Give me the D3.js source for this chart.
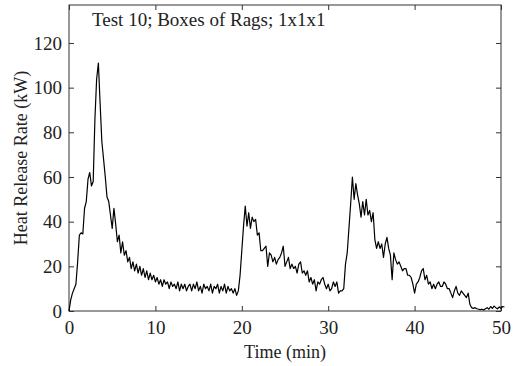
<!DOCTYPE html>
<html>
<head>
<meta charset="utf-8">
<script src="https://cdn.jsdelivr.net/npm/d3@7"></script>
<style>
  body { margin: 0; background: #fff; }
  text { font-family: "Liberation Serif", "Times New Roman", serif; fill: #222; }
</style>
</head>
<body>
<div id="chart"></div>
<script>
// Heat release rate, sampled every 0.2 min from 0 to 50 min
const sampleStep = 0.2;
const hrr = [
    0, 5, 8, 10, 12, 22, 34, 35, 34.5, 46,
    49, 59, 62, 56, 58, 86, 104, 111, 93, 76,
    68, 60, 51, 49, 43, 37, 46, 39, 31, 34,
    26, 31, 25, 27, 22, 24, 19, 22, 18, 21,
    17, 20, 16, 19, 15, 18, 14, 17, 14, 16,
    13, 15, 12, 14, 11, 14, 12, 13, 10, 13,
    11, 12, 10, 13, 9, 12, 10, 12, 9, 11,
    12, 9, 12, 10, 13, 9, 11, 8, 12, 10,
    11, 9, 12, 8, 11, 10, 12, 8, 11, 9,
    12, 8, 11, 9, 10, 8, 10, 7, 9, 16,
    27, 38, 47, 38, 44, 37, 42, 40, 41, 34,
    35, 27, 27, 28, 29, 20, 26, 25, 22, 24,
    21, 23, 24, 26, 29, 20, 22, 24, 19, 21,
    19, 20, 17, 21, 22, 17, 18, 16, 18, 13,
    15, 12, 14, 9, 13, 12, 14, 15, 12, 10,
    12, 9, 10, 13, 11, 13, 8, 9, 9, 10,
    21, 26, 37, 48, 60, 50, 57, 52, 48, 42,
    49, 43, 50, 43, 45, 40, 44, 32, 28, 31,
    28, 30, 24, 30, 33, 28, 25, 14, 26, 23,
    21, 22, 20, 18, 19, 19, 16, 16, 15, 12,
    8, 12, 13, 15, 18, 19, 14, 16, 12, 13,
    10, 12, 10, 12, 13, 11, 11, 13, 12, 10,
    10, 8, 6, 9, 11, 8, 7, 9, 8, 7,
    6, 8, 3, 1.5, 1.2, 1.5, 1, 0.8, 0.6, 0.8,
    0.5, 1, 1.5, 0.8, 2, 1.2, 2.2, 1.5, 1, 1.8,
    1.2, 2, 1.8
];

const xTicks = [0, 10, 20, 30, 40, 50];
const yTicks = [0, 20, 40, 60, 80, 100, 120];
const chartTitle = "Test 10; Boxes of Rags; 1x1x1";

const margin = { top: 5, right: 14, bottom: 55, left: 69 };
const width = 515 - margin.left - margin.right;
const height = 366 - margin.top - margin.bottom;
const serif = "'Liberation Serif', 'Times New Roman', serif";

const svg = d3.select("#chart")
    .append("svg")
    .attr("width", 515)
    .attr("height", 366);

const g = svg.append("g")
    .attr("transform", `translate(${margin.left},${margin.top})`);

const x = d3.scaleLinear().domain([0, 50]).range([0, width]);
const y = d3.scaleLinear().domain([0, 137]).range([height, 0]);

// Frame
g.append("rect")
    .attr("width", width)
    .attr("height", height)
    .attr("fill", "none")
    .attr("stroke", "#333")
    .attr("stroke-width", 1);

// Axes with inward ticks (mirrored on top and right)
const tickLen = 5;
const axes = [
    g.append("g")
        .attr("transform", `translate(0,${height})`)
        .call(d3.axisBottom(x).tickValues(xTicks).tickSize(-tickLen).tickPadding(10)),
    g.append("g")
        .call(d3.axisTop(x).tickValues(xTicks).tickSize(-tickLen).tickFormat("")),
    g.append("g")
        .call(d3.axisLeft(y).tickValues(yTicks).tickSize(-tickLen).tickPadding(7)),
    g.append("g")
        .attr("transform", `translate(${width},0)`)
        .call(d3.axisRight(y).tickValues(yTicks).tickSize(-tickLen).tickFormat(""))
];
axes.forEach(a => {
    a.attr("font-family", serif).attr("font-size", 19);
    a.select(".domain").remove();
    a.selectAll(".tick line").attr("stroke", "#333");
    a.selectAll(".tick text").attr("fill", "#222");
});

// Curve
const line = d3.line()
    .x((d, i) => x(i * sampleStep))
    .y(d => y(d));

g.append("path")
    .datum(hrr)
    .attr("fill", "none")
    .attr("stroke", "#000")
    .attr("stroke-width", 1.2)
    .attr("stroke-linejoin", "round")
    .attr("d", line);

// Title inside the plot
g.append("text")
    .attr("x", 23)
    .attr("y", 21)
    .style("font-size", "19px")
    .text(chartTitle);

// Axis labels
svg.append("text")
    .attr("x", margin.left + width / 2)
    .attr("y", 358)
    .attr("text-anchor", "middle")
    .style("font-size", "18px")
    .text("Time (min)");

svg.append("text")
    .attr("transform", `translate(27,${margin.top + height / 2}) rotate(-90)`)
    .attr("text-anchor", "middle")
    .style("font-size", "18px")
    .text("Heat Release Rate (kW)");
</script>
</body>
</html>
